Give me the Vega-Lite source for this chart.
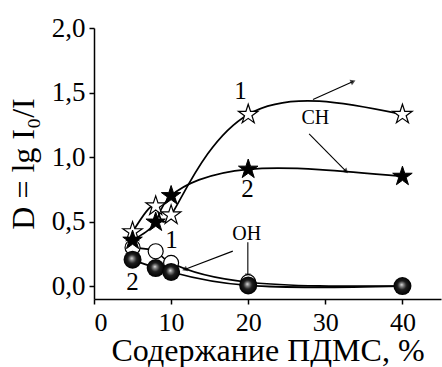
{
  "$schema": "https://vega.github.io/schema/vega-lite/v6.json",
  "width": 347,
  "height": 271,
  "autosize": {"type": "none"},
  "padding": {"left": 94, "top": 28, "right": 1, "bottom": 68},
  "background": "white",
  "config": {
    "view": {"stroke": null},
    "font": "Liberation Serif",
    "axis": {
      "grid": false,
      "domainColor": "black",
      "domainWidth": 1.5,
      "tickColor": "black",
      "tickWidth": 1.5,
      "labelColor": "black",
      "titleColor": "black",
      "labelFont": "Liberation Serif",
      "titleFont": "Liberation Serif",
      "labelFontSize": 27,
      "titleFontSize": 32,
      "titleFontWeight": "normal"
    }
  },
  "datasets": {
    "pts": [
      {"x": 5, "y": 0.42, "s": "CH1"},
      {"x": 8, "y": 0.62, "s": "CH1"},
      {"x": 10, "y": 0.55, "s": "CH1"},
      {"x": 20, "y": 1.33, "s": "CH1"},
      {"x": 40, "y": 1.33, "s": "CH1"},
      {"x": 5, "y": 0.355, "s": "CH2"},
      {"x": 8, "y": 0.495, "s": "CH2"},
      {"x": 10, "y": 0.70, "s": "CH2"},
      {"x": 20, "y": 0.905, "s": "CH2"},
      {"x": 40, "y": 0.85, "s": "CH2"},
      {"x": 5, "y": 0.30, "s": "OH1"},
      {"x": 8, "y": 0.27, "s": "OH1"},
      {"x": 10, "y": 0.18, "s": "OH1"},
      {"x": 20, "y": 0.03, "s": "OH1"},
      {"x": 40, "y": 0.0, "s": "OH1"},
      {"x": 5, "y": 0.205, "s": "OH2"},
      {"x": 8, "y": 0.14, "s": "OH2"},
      {"x": 10, "y": 0.11, "s": "OH2"},
      {"x": 20, "y": 0.005, "s": "OH2"},
      {"x": 40, "y": 0.0, "s": "OH2"}
    ],
    "labels": [
      {"x": 19.0, "y": 1.515, "t": "1", "k": "big"},
      {"x": 19.9, "y": 0.75, "t": "2", "k": "big"},
      {"x": 10.05, "y": 0.36, "t": "1", "k": "big"},
      {"x": 5.0, "y": 0.03, "t": "2", "k": "big"},
      {"x": 28.7, "y": 1.30, "t": "CH", "k": "small"},
      {"x": 19.8, "y": 0.40, "t": "OH", "k": "small"}
    ],
    "arrows": [
      {"x": 28.4, "y": 1.445, "x2": 33.6, "y2": 1.586, "dir": 336},
      {"x": 27.9, "y": 1.18, "x2": 32.7, "y2": 0.889, "dir": 45},
      {"x": 18.0, "y": 0.271, "x2": 11.75, "y2": 0.129, "dir": 159},
      {"x": 19.95, "y": 0.34, "x2": 19.95, "y2": 0.077, "dir": 90}
    ]
  },
  "layer": [
    {
      "data": {"name": "pts"},
      "mark": {"type": "line", "interpolate": "natural", "color": "black", "strokeWidth": 1.7},
      "encoding": {
        "x": {
          "field": "x", "type": "quantitative",
          "scale": {"domain": [0, 45], "nice": false, "zero": false},
          "axis": {
            "title": "Содержание ПДМС, %",
            "values": [0, 5, 10, 15, 20, 25, 30, 35, 40, 45],
            "labelExpr": "datum.value % 10 === 0 ? datum.value : ''",
            "tickSize": {"condition": {"test": "datum.value % 10 !== 0", "value": 3}, "value": 5},
            "labelFontSize": 26,
            "labelPadding": 5,
            "titlePadding": 0
          }
        },
        "y": {
          "field": "y", "type": "quantitative",
          "scale": {"domain": [-0.1, 2.0], "nice": false, "zero": false},
          "axis": {
            "title": "D = lg I₀/I",
            "values": [0, 0.25, 0.5, 0.75, 1.0, 1.25, 1.5, 1.75, 2.0],
            "labelExpr": "round(datum.value*4) % 2 === 0 ? replace(format(datum.value, '.1f'), '.', ',') : ''",
            "tickSize": {"condition": {"test": "round(datum.value*4) % 2 !== 0", "value": 3}, "value": 5},
            "labelPadding": 4,
            "titlePadding": 11
          }
        },
        "detail": {"field": "s"}
      }
    },
    {
      "data": {"name": "arrows"},
      "mark": {"type": "rule", "color": "black", "strokeWidth": 1.1},
      "encoding": {
        "x": {"field": "x", "type": "quantitative"},
        "y": {"field": "y", "type": "quantitative"},
        "x2": {"field": "x2"},
        "y2": {"field": "y2"}
      }
    },
    {
      "data": {"name": "arrows"},
      "mark": {"type": "point", "shape": "triangle-right", "filled": true, "color": "black", "size": 35},
      "encoding": {
        "x": {"field": "x2", "type": "quantitative"},
        "y": {"field": "y2", "type": "quantitative"},
        "angle": {"field": "dir", "type": "quantitative", "scale": null}
      }
    },
    {
      "data": {"name": "pts"},
      "transform": [{"filter": "datum.s === 'OH1'"}],
      "mark": {"type": "point", "shape": "circle", "filled": true, "fill": "white", "stroke": "black", "strokeWidth": 1.2, "size": 225, "opacity": 1},
      "encoding": {
        "x": {"field": "x", "type": "quantitative"},
        "y": {"field": "y", "type": "quantitative"}
      }
    },
    {
      "data": {"name": "pts"},
      "transform": [{"filter": "datum.s === 'OH2'"}],
      "mark": {
        "type": "point", "shape": "circle", "filled": true, "size": 324, "opacity": 1,
        "fill": {
          "gradient": "radial", "x1": 0.45, "y1": 0.42, "r1": 0, "x2": 0.5, "y2": 0.5, "r2": 0.5,
          "stops": [
            {"offset": 0, "color": "#e8e8e8"},
            {"offset": 0.18, "color": "#8c8c8c"},
            {"offset": 0.5, "color": "#1e1e1e"},
            {"offset": 1, "color": "#000000"}
          ]
        }
      },
      "encoding": {
        "x": {"field": "x", "type": "quantitative"},
        "y": {"field": "y", "type": "quantitative"}
      }
    },
    {
      "data": {"name": "pts"},
      "transform": [{"filter": "datum.s === 'CH1'"}],
      "mark": {"type": "point", "shape": "M0,-1L0.2245,-0.309L0.9511,-0.309L0.363,0.118L0.5878,0.809L0,0.382L-0.5878,0.809L-0.363,0.118L-0.9511,-0.309L-0.2245,-0.309Z", "filled": true, "fill": "white", "stroke": "black", "strokeWidth": 1.2, "size": 420, "opacity": 1},
      "encoding": {
        "x": {"field": "x", "type": "quantitative"},
        "y": {"field": "y", "type": "quantitative"}
      }
    },
    {
      "data": {"name": "pts"},
      "transform": [{"filter": "datum.s === 'CH2'"}],
      "mark": {"type": "point", "shape": "M0,-1L0.2245,-0.309L0.9511,-0.309L0.363,0.118L0.5878,0.809L0,0.382L-0.5878,0.809L-0.363,0.118L-0.9511,-0.309L-0.2245,-0.309Z", "filled": true, "fill": "black", "stroke": "black", "strokeWidth": 1, "size": 420, "opacity": 1},
      "encoding": {
        "x": {"field": "x", "type": "quantitative"},
        "y": {"field": "y", "type": "quantitative"}
      }
    },
    {
      "data": {"name": "labels"},
      "transform": [{"filter": "datum.k === 'big'"}],
      "mark": {"type": "text", "font": "Liberation Serif", "fontSize": 25, "color": "black", "align": "center", "baseline": "middle"},
      "encoding": {
        "x": {"field": "x", "type": "quantitative"},
        "y": {"field": "y", "type": "quantitative"},
        "text": {"field": "t"}
      }
    },
    {
      "data": {"name": "labels"},
      "transform": [{"filter": "datum.k === 'small'"}],
      "mark": {"type": "text", "font": "Liberation Serif", "fontSize": 20, "color": "black", "align": "center", "baseline": "middle"},
      "encoding": {
        "x": {"field": "x", "type": "quantitative"},
        "y": {"field": "y", "type": "quantitative"},
        "text": {"field": "t"}
      }
    }
  ]
}
